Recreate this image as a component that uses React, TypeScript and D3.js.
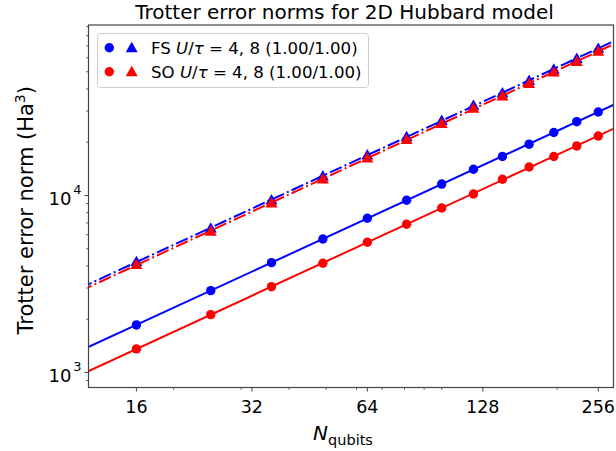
import React from "react";
import * as d3 from "d3";

const nQubits = [16, 25, 36, 49, 64, 81, 100, 121, 144, 169, 196, 225, 256];
const fsU4 = [1855, 2898, 4172, 5679, 7435, 9400, 11600, 14060, 16610, 19490, 22700, 26120, 29630];
const soU4 = [1358, 2121, 3052, 4140, 5440, 6880, 8500, 10200, 12350, 14490, 16600, 19050, 21680];
const fsU8 = [4227, 6527, 9432, 12890, 16935, 21490, 26530, 32330, 37940, 44670, 51720, 59430, 67870];
const soU8 = [4070, 6280, 9070, 12400, 16290, 20680, 25520, 31100, 36500, 42970, 49750, 57170, 65290];
const xTickLabels = [16, 32, 64, 128, 256];
const xMinorTicks = [20, 30, 40, 50, 60, 70, 80, 90, 100, 200];
const yMajorTicks = [1000, 10000];
const yMinorTicks = [900, 2000, 3000, 4000, 5000, 6000, 7000, 8000, 9000, 20000, 30000, 40000, 50000, 60000, 70000, 80000, 90000];
const xDomain = [12.0, 280.5];
const yDomain = [822, 91900];

const W = 616, H = 451;
const L = 88.5, R = 613.5, T = 25, B = 387.5;
const FONT = "DejaVu Sans, sans-serif";

function fit(xs: number[], ys: number[]) {
  const lx = xs.map(Math.log), ly = ys.map(Math.log);
  const mx = d3.mean(lx)!, my = d3.mean(ly)!;
  let num = 0, den = 0;
  lx.forEach((v, i) => { num += (v - mx) * (ly[i] - my); den += (v - mx) * (v - mx); });
  const b = num / den, a = my - b * mx;
  return (x: number) => Math.exp(a + b * Math.log(x));
}

export default function App() {
  const x = d3.scaleLog().domain(xDomain).range([L, R]);
  const y = d3.scaleLog().domain(yDomain).range([B, T]);
  const series = [
    { ys: fsU4, color: "blue", marker: "o", dash: "" },
    { ys: fsU8, color: "blue", marker: "^", dash: "12.8,3.2,2,3.2" },
    { ys: soU4, color: "red", marker: "o", dash: "" },
    { ys: soU8, color: "red", marker: "^", dash: "12.8,3.2,2,3.2" },
  ];
  const line = d3.line<number>().x((d) => x(d[0])).y((d) => y(d[1]));
  const tri = d3.symbol().type(d3.symbolTriangle).size(62)()!;
  const sym = (m: string, cx: number, cy: number, c: string, k: string) =>
    m === "o" ? (
      <circle key={k} cx={cx} cy={cy} r={4.7} fill={c} />
    ) : (
      <path key={k} d={tri} transform={`translate(${cx},${cy + 1})`} fill={c} />
    );
  const xsLine = [xDomain[0] * 0.95, xDomain[1] * 1.05];
  return (
    <svg width={W} height={H} style={{ position: "absolute", left: 0, top: 0 }} fontFamily={FONT}>
      <defs>
        <clipPath id="plot"><rect x={L} y={T} width={R - L} height={B - T} /></clipPath>
      </defs>
      <rect width={W} height={H} fill="white" />
      <text x={344.5} y={19} fontSize={20} textAnchor="middle">Trotter error norms for 2D Hubbard model</text>
      <g clipPath="url(#plot)">
        {series.map((s, i) => {
          const f = fit(nQubits, s.ys);
          return (
            <g key={i}>
              <path d={line(xsLine.map((v) => [v, f(v)]) as any)!} fill="none" stroke={s.color} strokeWidth={2} strokeDasharray={s.dash} />
              {nQubits.map((n, j) => sym(s.marker, x(n), y(s.ys[j]), s.color, `m${j}`))}
            </g>
          );
        })}
      </g>
      {/* axes */}
      <rect x={L} y={T} width={R - L} height={B - T} fill="none" stroke="#444" strokeWidth={1.2} />
      {xTickLabels.map((t) => (
        <g key={t}>
          <line x1={x(t)} x2={x(t)} y1={B} y2={B + 4} stroke="#444" strokeWidth={1} />
          <text x={x(t)} y={412.5} fontSize={17.5} textAnchor="middle">{t}</text>
        </g>
      ))}
      {xMinorTicks.map((t) => (
        <line key={t} x1={x(t)} x2={x(t)} y1={B} y2={B + 2.5} stroke="#444" strokeWidth={0.8} />
      ))}
      {yMajorTicks.map((t) => (
        <g key={t}>
          <line x1={L - 4} x2={L} y1={y(t)} y2={y(t)} stroke="#444" strokeWidth={1} />
          <text x={L - 17} y={y(t) + 9.5} fontSize={18} textAnchor="end">10</text>
          <text x={L - 7} y={y(t) - 1} fontSize={13} textAnchor="end">{Math.round(Math.log10(t))}</text>
        </g>
      ))}
      {yMinorTicks.filter((t) => y(t) >= T && y(t) <= B).map((t) => (
        <line key={t} x1={L - 2.5} x2={L} y1={y(t)} y2={y(t)} stroke="#444" strokeWidth={0.8} />
      ))}
      <text x={(L + R) / 2 - 8} y={440} fontSize={20} textAnchor="middle">
        <tspan fontStyle="italic">N</tspan>
        <tspan fontSize={14.5} dy={4.5}>qubits</tspan>
      </text>
      <text transform={`translate(33,${(T + B) / 2 + 4}) rotate(-90)`} fontSize={21} textAnchor="middle">
        Trotter error norm (Ha<tspan fontSize={14} dy={-8}>3</tspan><tspan dy={8}>)</tspan>
      </text>
      {/* legend */}
      <rect x={97.5} y={33.5} width={271} height={54} rx={3} fill="white" fillOpacity={0.8} stroke="#ccc" strokeWidth={1} />
      {[{ c: "blue", l: "FS" }, { c: "red", l: "SO" }].map((e, i) => {
        const yy = 47.7 + i * 24;
        return (
          <g key={i}>
            <circle cx={109.3} cy={yy} r={4.7} fill={e.c} />
            <path d={tri} transform={`translate(131.7,${yy + 1})`} fill={e.c} />
            <text x={151} y={yy + 6} fontSize={16.6}>
              {e.l} <tspan fontStyle="italic">U</tspan>/<tspan fontStyle="italic">τ</tspan> = 4, 8 (1.00/1.00)
            </text>
          </g>
        );
      })}
    </svg>
  );
}
